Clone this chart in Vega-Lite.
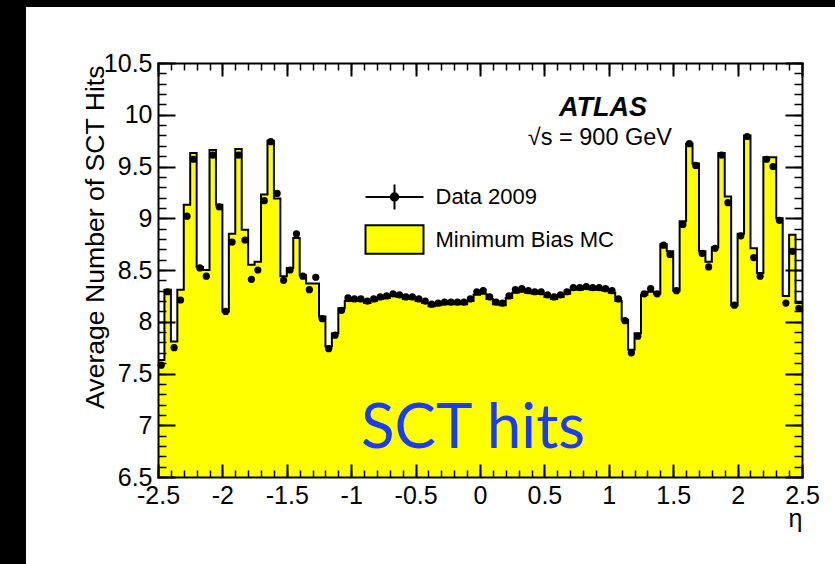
{
 "$schema": "https://vega.github.io/schema/vega-lite/v6.json",
 "width": 644, "height": 414,
 "autosize": {"type": "none"},
 "padding": {"left": 158, "top": 63, "right": 33, "bottom": 87},
 "background": "#000000",
 "config": {
  "view": {"stroke": null},
  "axis": {"labelFont": "Liberation Sans", "labelFontSize": 25, "labelColor": "black", "tickColor": "black", "domain": false, "grid": false, "labelFlush": false, "labelOverlap": false, "titleFont": "Liberation Sans", "titleColor": "black", "titleFontWeight": "normal", "domainColor": "black", "domainWidth": 2, "domainCap": "square"}
 },
 "data": {"values": [
  {"eta": -2.475, "lo": -2.5, "hi": -2.45, "data": 7.58, "mc": 7.63},
  {"eta": -2.425, "lo": -2.45, "hi": -2.4, "data": 8.29, "mc": 8.31},
  {"eta": -2.375, "lo": -2.4, "hi": -2.35, "data": 7.75, "mc": 7.81},
  {"eta": -2.325, "lo": -2.35, "hi": -2.3, "data": 8.21, "mc": 8.31},
  {"eta": -2.275, "lo": -2.3, "hi": -2.25, "data": 9.02, "mc": 9.13},
  {"eta": -2.225, "lo": -2.25, "hi": -2.2, "data": 9.57, "mc": 9.63},
  {"eta": -2.175, "lo": -2.2, "hi": -2.15, "data": 8.52, "mc": 8.53},
  {"eta": -2.125, "lo": -2.15, "hi": -2.1, "data": 8.44, "mc": 8.5},
  {"eta": -2.075, "lo": -2.1, "hi": -2.05, "data": 9.61, "mc": 9.66},
  {"eta": -2.025, "lo": -2.05, "hi": -2.0, "data": 9.11, "mc": 9.13},
  {"eta": -1.975, "lo": -2.0, "hi": -1.95, "data": 8.1, "mc": 8.1},
  {"eta": -1.925, "lo": -1.95, "hi": -1.9, "data": 8.77, "mc": 8.85},
  {"eta": -1.875, "lo": -1.9, "hi": -1.85, "data": 9.61, "mc": 9.67},
  {"eta": -1.825, "lo": -1.85, "hi": -1.8, "data": 8.79, "mc": 8.89},
  {"eta": -1.775, "lo": -1.8, "hi": -1.75, "data": 8.41, "mc": 8.55},
  {"eta": -1.725, "lo": -1.75, "hi": -1.7, "data": 8.5, "mc": 8.58},
  {"eta": -1.675, "lo": -1.7, "hi": -1.65, "data": 9.17, "mc": 9.23},
  {"eta": -1.625, "lo": -1.65, "hi": -1.6, "data": 9.74, "mc": 9.75},
  {"eta": -1.575, "lo": -1.6, "hi": -1.55, "data": 9.24, "mc": 9.19},
  {"eta": -1.525, "lo": -1.55, "hi": -1.5, "data": 8.4, "mc": 8.44},
  {"eta": -1.475, "lo": -1.5, "hi": -1.45, "data": 8.5, "mc": 8.52},
  {"eta": -1.425, "lo": -1.45, "hi": -1.4, "data": 8.85, "mc": 8.81},
  {"eta": -1.375, "lo": -1.4, "hi": -1.35, "data": 8.44, "mc": 8.45},
  {"eta": -1.325, "lo": -1.35, "hi": -1.3, "data": 8.31, "mc": 8.37},
  {"eta": -1.275, "lo": -1.3, "hi": -1.25, "data": 8.43, "mc": 8.37},
  {"eta": -1.225, "lo": -1.25, "hi": -1.2, "data": 8.03, "mc": 8.05},
  {"eta": -1.175, "lo": -1.2, "hi": -1.15, "data": 7.74, "mc": 7.76},
  {"eta": -1.125, "lo": -1.15, "hi": -1.1, "data": 7.87, "mc": 7.89},
  {"eta": -1.075, "lo": -1.1, "hi": -1.05, "data": 8.11, "mc": 8.13},
  {"eta": -1.025, "lo": -1.05, "hi": -1.0, "data": 8.23, "mc": 8.2},
  {"eta": -0.975, "lo": -1.0, "hi": -0.95, "data": 8.22, "mc": 8.2},
  {"eta": -0.925, "lo": -0.95, "hi": -0.9, "data": 8.22, "mc": 8.2},
  {"eta": -0.875, "lo": -0.9, "hi": -0.85, "data": 8.2, "mc": 8.18},
  {"eta": -0.825, "lo": -0.85, "hi": -0.8, "data": 8.22, "mc": 8.2},
  {"eta": -0.775, "lo": -0.8, "hi": -0.75, "data": 8.24, "mc": 8.22},
  {"eta": -0.725, "lo": -0.75, "hi": -0.7, "data": 8.25, "mc": 8.23},
  {"eta": -0.675, "lo": -0.7, "hi": -0.65, "data": 8.27, "mc": 8.25},
  {"eta": -0.625, "lo": -0.65, "hi": -0.6, "data": 8.26, "mc": 8.24},
  {"eta": -0.575, "lo": -0.6, "hi": -0.55, "data": 8.24, "mc": 8.22},
  {"eta": -0.525, "lo": -0.55, "hi": -0.5, "data": 8.24, "mc": 8.22},
  {"eta": -0.475, "lo": -0.5, "hi": -0.45, "data": 8.22, "mc": 8.2},
  {"eta": -0.425, "lo": -0.45, "hi": -0.4, "data": 8.2, "mc": 8.18},
  {"eta": -0.375, "lo": -0.4, "hi": -0.35, "data": 8.17, "mc": 8.15},
  {"eta": -0.325, "lo": -0.35, "hi": -0.3, "data": 8.18, "mc": 8.16},
  {"eta": -0.275, "lo": -0.3, "hi": -0.25, "data": 8.19, "mc": 8.17},
  {"eta": -0.225, "lo": -0.25, "hi": -0.2, "data": 8.19, "mc": 8.17},
  {"eta": -0.175, "lo": -0.2, "hi": -0.15, "data": 8.19, "mc": 8.17},
  {"eta": -0.125, "lo": -0.15, "hi": -0.1, "data": 8.19, "mc": 8.17},
  {"eta": -0.075, "lo": -0.1, "hi": -0.05, "data": 8.22, "mc": 8.2},
  {"eta": -0.025, "lo": -0.05, "hi": 0.0, "data": 8.29, "mc": 8.26},
  {"eta": 0.025, "lo": 0.0, "hi": 0.05, "data": 8.3, "mc": 8.27},
  {"eta": 0.075, "lo": 0.05, "hi": 0.1, "data": 8.24, "mc": 8.22},
  {"eta": 0.125, "lo": 0.1, "hi": 0.15, "data": 8.19, "mc": 8.17},
  {"eta": 0.175, "lo": 0.15, "hi": 0.2, "data": 8.18, "mc": 8.16},
  {"eta": 0.225, "lo": 0.2, "hi": 0.25, "data": 8.25, "mc": 8.23},
  {"eta": 0.275, "lo": 0.25, "hi": 0.3, "data": 8.31, "mc": 8.28},
  {"eta": 0.325, "lo": 0.3, "hi": 0.35, "data": 8.32, "mc": 8.29},
  {"eta": 0.375, "lo": 0.35, "hi": 0.4, "data": 8.3, "mc": 8.28},
  {"eta": 0.425, "lo": 0.4, "hi": 0.45, "data": 8.29, "mc": 8.27},
  {"eta": 0.475, "lo": 0.45, "hi": 0.5, "data": 8.29, "mc": 8.27},
  {"eta": 0.525, "lo": 0.5, "hi": 0.55, "data": 8.26, "mc": 8.24},
  {"eta": 0.575, "lo": 0.55, "hi": 0.6, "data": 8.24, "mc": 8.22},
  {"eta": 0.625, "lo": 0.6, "hi": 0.65, "data": 8.26, "mc": 8.24},
  {"eta": 0.675, "lo": 0.65, "hi": 0.7, "data": 8.29, "mc": 8.27},
  {"eta": 0.725, "lo": 0.7, "hi": 0.75, "data": 8.33, "mc": 8.31},
  {"eta": 0.775, "lo": 0.75, "hi": 0.8, "data": 8.33, "mc": 8.31},
  {"eta": 0.825, "lo": 0.8, "hi": 0.85, "data": 8.34, "mc": 8.32},
  {"eta": 0.875, "lo": 0.85, "hi": 0.9, "data": 8.33, "mc": 8.31},
  {"eta": 0.925, "lo": 0.9, "hi": 0.95, "data": 8.33, "mc": 8.31},
  {"eta": 0.975, "lo": 0.95, "hi": 1.0, "data": 8.32, "mc": 8.3},
  {"eta": 1.025, "lo": 1.0, "hi": 1.05, "data": 8.3, "mc": 8.28},
  {"eta": 1.075, "lo": 1.05, "hi": 1.1, "data": 8.22, "mc": 8.2},
  {"eta": 1.125, "lo": 1.1, "hi": 1.15, "data": 8.01, "mc": 8.02},
  {"eta": 1.175, "lo": 1.15, "hi": 1.2, "data": 7.7, "mc": 7.73},
  {"eta": 1.225, "lo": 1.2, "hi": 1.25, "data": 7.86, "mc": 7.89},
  {"eta": 1.275, "lo": 1.25, "hi": 1.3, "data": 8.27, "mc": 8.26},
  {"eta": 1.325, "lo": 1.3, "hi": 1.35, "data": 8.32, "mc": 8.29},
  {"eta": 1.375, "lo": 1.35, "hi": 1.4, "data": 8.27, "mc": 8.27},
  {"eta": 1.425, "lo": 1.4, "hi": 1.45, "data": 8.74, "mc": 8.75},
  {"eta": 1.475, "lo": 1.45, "hi": 1.5, "data": 8.65, "mc": 8.68},
  {"eta": 1.525, "lo": 1.5, "hi": 1.55, "data": 8.3, "mc": 8.3},
  {"eta": 1.575, "lo": 1.55, "hi": 1.6, "data": 8.94, "mc": 8.97},
  {"eta": 1.625, "lo": 1.6, "hi": 1.65, "data": 9.72, "mc": 9.72},
  {"eta": 1.675, "lo": 1.65, "hi": 1.7, "data": 9.51, "mc": 9.53},
  {"eta": 1.725, "lo": 1.7, "hi": 1.75, "data": 8.66, "mc": 8.68},
  {"eta": 1.775, "lo": 1.75, "hi": 1.8, "data": 8.53, "mc": 8.58},
  {"eta": 1.825, "lo": 1.8, "hi": 1.85, "data": 8.71, "mc": 8.72},
  {"eta": 1.875, "lo": 1.85, "hi": 1.9, "data": 9.61, "mc": 9.63},
  {"eta": 1.925, "lo": 1.9, "hi": 1.95, "data": 9.15, "mc": 9.21},
  {"eta": 1.975, "lo": 1.95, "hi": 2.0, "data": 8.16, "mc": 8.16},
  {"eta": 2.025, "lo": 2.0, "hi": 2.05, "data": 8.83, "mc": 8.85},
  {"eta": 2.075, "lo": 2.05, "hi": 2.1, "data": 9.79, "mc": 9.8},
  {"eta": 2.125, "lo": 2.1, "hi": 2.15, "data": 8.62, "mc": 8.71},
  {"eta": 2.175, "lo": 2.15, "hi": 2.2, "data": 8.44, "mc": 8.47},
  {"eta": 2.225, "lo": 2.2, "hi": 2.25, "data": 9.57, "mc": 9.59},
  {"eta": 2.275, "lo": 2.25, "hi": 2.3, "data": 9.5, "mc": 9.59},
  {"eta": 2.325, "lo": 2.3, "hi": 2.35, "data": 8.98, "mc": 9.0},
  {"eta": 2.375, "lo": 2.35, "hi": 2.4, "data": 8.18, "mc": 8.25},
  {"eta": 2.425, "lo": 2.4, "hi": 2.45, "data": 8.68, "mc": 8.84},
  {"eta": 2.475, "lo": 2.45, "hi": 2.5, "data": 8.13, "mc": 8.18}
 ]},
 "resolve": {"axis": {"x": "independent", "y": "independent"}, "scale": {"color": "independent", "shape": "independent"}},
 "layer": [
  {
   "data": {"values": [{}]},
   "mark": {"type": "rect", "color": "white", "clip": false},
   "encoding": {
    "x": {"datum": -3.525, "type": "quantitative", "axis": null},
    "x2": {"datum": 2.8},
    "y": {"datum": 11.04, "type": "quantitative", "axis": null},
    "y2": {"datum": 5.5}
   }
  },
  {
   "transform": [{"fold": ["lo", "hi"], "as": ["edge", "x"]}],
   "mark": {"type": "area", "color": "#ffff00", "opacity": 1, "clip": true},
   "encoding": {
    "x": {"field": "x", "type": "quantitative", "scale": {"domain": [-2.5, 2.5], "nice": false, "zero": false},
     "axis": {"orient": "bottom", "zindex": 1, "values": [-2.5, -2, -1.5, -1, -0.5, 0, 0.5, 1, 1.5, 2, 2.5], "tickSize": -13, "tickWidth": 2, "labelPadding": 19, "labelExpr": "toString(datum.value)", "domain": true,
      "title": "η", "titleFontSize": 25, "titleX": 644, "titleY": 49, "titleAlign": "right", "titleAnchor": "end", "titleBaseline": "alphabetic"}},
    "y": {"field": "mc", "type": "quantitative", "scale": {"domain": [6.5, 10.5], "nice": false, "zero": false},
     "axis": {"orient": "left", "zindex": 1, "values": [6.5, 7, 7.5, 8, 8.5, 9, 9.5, 10, 10.5], "tickSize": -17, "tickWidth": 2, "labelPadding": 23, "labelExpr": "toString(datum.value)", "domain": true,
      "title": "Average Number of SCT Hits", "titleFontSize": 26.6, "titleAngle": -90, "titleX": -63, "titleY": 2, "titleAlign": "right", "titleAnchor": "end", "titleBaseline": "middle"}},
    "y2": {"datum": 6.5}
   }
  },
  {
   "transform": [{"fold": ["lo", "hi"], "as": ["edge", "x"]}],
   "mark": {"type": "line", "color": "black", "strokeWidth": 2, "clip": true},
   "encoding": {
    "x": {"field": "x", "type": "quantitative", "scale": {"domain": [-2.5, 2.5], "nice": false, "zero": false},
     "axis": {"orient": "bottom", "zindex": 1, "values": [-2.5,-2.4,-2.3,-2.2,-2.1,-2,-1.9,-1.8,-1.7,-1.6,-1.5,-1.4,-1.3,-1.2,-1.1,-1,-0.9,-0.8,-0.7,-0.6,-0.5,-0.4,-0.3,-0.2,-0.1,0,0.1,0.2,0.3,0.4,0.5,0.6,0.7,0.8,0.9,1,1.1,1.2,1.3,1.4,1.5,1.6,1.7,1.8,1.9,2,2.1,2.2,2.3,2.4,2.5], "tickSize": -7, "tickWidth": 1.5, "labels": false, "title": null}},
    "y": {"field": "mc", "type": "quantitative", "scale": {"domain": [6.5, 10.5], "nice": false, "zero": false},
     "axis": {"orient": "left", "zindex": 1, "values": [6.5,6.6,6.7,6.8,6.9,7,7.1,7.2,7.3,7.4,7.5,7.6,7.7,7.8,7.9,8,8.1,8.2,8.3,8.4,8.5,8.6,8.7,8.8,8.9,9,9.1,9.2,9.3,9.4,9.5,9.6,9.7,9.8,9.9,10,10.1,10.2,10.3,10.4,10.5], "tickSize": -8, "tickWidth": 1.5, "labels": false, "title": null}},
    "order": [{"field": "x", "type": "quantitative"}, {"field": "edge", "type": "nominal"}]
   }
  },
  {
   "mark": {"type": "point", "filled": true, "color": "black", "size": 52, "opacity": 1},
   "encoding": {
    "x": {"field": "eta", "type": "quantitative", "scale": {"domain": [-2.5, 2.5], "nice": false, "zero": false},
     "axis": {"orient": "top", "zindex": 1, "values": [-2.5, -2, -1.5, -1, -0.5, 0, 0.5, 1, 1.5, 2, 2.5], "tickSize": -13, "tickWidth": 2, "labels": false, "domain": true, "title": null}},
    "y": {"field": "data", "type": "quantitative", "scale": {"domain": [6.5, 10.5], "nice": false, "zero": false},
     "axis": {"orient": "right", "zindex": 1, "values": [6.5, 7, 7.5, 8, 8.5, 9, 9.5, 10, 10.5], "tickSize": -17, "tickWidth": 2, "labels": false, "domain": true, "title": null}}
   }
  },
  {
   "mark": {"type": "point", "filled": true, "opacity": 0},
   "encoding": {
    "x": {"field": "eta", "type": "quantitative", "scale": {"domain": [-2.5, 2.5], "nice": false, "zero": false},
     "axis": {"orient": "top", "zindex": 1, "values": [-2.5,-2.4,-2.3,-2.2,-2.1,-2,-1.9,-1.8,-1.7,-1.6,-1.5,-1.4,-1.3,-1.2,-1.1,-1,-0.9,-0.8,-0.7,-0.6,-0.5,-0.4,-0.3,-0.2,-0.1,0,0.1,0.2,0.3,0.4,0.5,0.6,0.7,0.8,0.9,1,1.1,1.2,1.3,1.4,1.5,1.6,1.7,1.8,1.9,2,2.1,2.2,2.3,2.4,2.5], "tickSize": -7, "tickWidth": 1.5, "labels": false, "title": null}},
    "y": {"field": "data", "type": "quantitative", "scale": {"domain": [6.5, 10.5], "nice": false, "zero": false},
     "axis": {"orient": "right", "zindex": 1, "values": [6.5,6.6,6.7,6.8,6.9,7,7.1,7.2,7.3,7.4,7.5,7.6,7.7,7.8,7.9,8,8.1,8.2,8.3,8.4,8.5,8.6,8.7,8.8,8.9,9,9.1,9.2,9.3,9.4,9.5,9.6,9.7,9.8,9.9,10,10.1,10.2,10.3,10.4,10.5], "tickSize": -8, "tickWidth": 1.5, "labels": false, "title": null}},
    "color": {"datum": "Data 2009", "type": "nominal", "scale": {"range": ["black"]},
     "legend": {"title": null, "orient": "none", "legendX": 206.5, "legendY": 104, "padding": 0, "symbolSize": 3364, "symbolStrokeColor": "black", "symbolStrokeWidth": 2, "symbolOpacity": 1, "labelFont": "Liberation Sans", "labelFontSize": 22, "labelLimit": 400, "labelColor": "black", "labelOffset": 11,
      "encode": {"symbols": {"update": {"stroke": {"value": "black"}, "strokeWidth": {"value": 2}, "opacity": {"value": 1}, "strokeOpacity": {"value": 1}}}}}},
    "shape": {"datum": "Data 2009", "type": "nominal", "scale": {"range": ["M-1,0H1M0,-0.43V0.43M0.13,0A0.13,0.13,0,1,1,-0.13,0A0.13,0.13,0,1,1,0.13,0Z"]},
     "legend": {"title": null, "orient": "none", "legendX": 206.5, "legendY": 104, "padding": 0, "symbolSize": 3364, "symbolStrokeColor": "black", "symbolStrokeWidth": 2, "symbolOpacity": 1, "labelFont": "Liberation Sans", "labelFontSize": 22, "labelLimit": 400, "labelColor": "black", "labelOffset": 11,
      "encode": {"symbols": {"update": {"stroke": {"value": "black"}, "strokeWidth": {"value": 2}, "opacity": {"value": 1}, "strokeOpacity": {"value": 1}}}}}}
   }
  },
  {
   "mark": {"type": "point", "filled": true, "opacity": 0},
   "encoding": {
    "x": {"field": "eta", "type": "quantitative", "scale": {"domain": [-2.5, 2.5], "nice": false, "zero": false}, "axis": null},
    "y": {"field": "mc", "type": "quantitative", "scale": {"domain": [6.5, 10.5], "nice": false, "zero": false}, "axis": null},
    "color": {"datum": "Minimum Bias MC", "type": "nominal", "scale": {"range": ["#ffff00"]},
     "legend": {"title": null, "orient": "none", "legendX": 206.5, "legendY": 146.5, "padding": 0, "symbolSize": 3364, "symbolStrokeColor": "black", "symbolStrokeWidth": 2, "symbolOpacity": 1, "labelFont": "Liberation Sans", "labelFontSize": 22, "labelLimit": 400, "labelColor": "black", "labelOffset": 11,
      "encode": {"symbols": {"update": {"stroke": {"value": "black"}, "strokeWidth": {"value": 2}, "opacity": {"value": 1}, "strokeOpacity": {"value": 1}}}}}},
    "shape": {"datum": "Minimum Bias MC", "type": "nominal", "scale": {"range": ["M-1,-0.49H1V0.49H-1Z"]},
     "legend": {"title": null, "orient": "none", "legendX": 206.5, "legendY": 146.5, "padding": 0, "symbolSize": 3364, "symbolStrokeColor": "black", "symbolStrokeWidth": 2, "symbolOpacity": 1, "labelFont": "Liberation Sans", "labelFontSize": 22, "labelLimit": 400, "labelColor": "black", "labelOffset": 11,
      "encode": {"symbols": {"update": {"stroke": {"value": "black"}, "strokeWidth": {"value": 2}, "opacity": {"value": 1}, "strokeOpacity": {"value": 1}}}}}}
   }
  },
  {
   "data": {"values": [{}]},
   "mark": {"type": "text", "text": "ATLAS", "font": "Liberation Sans", "fontSize": 27, "fontWeight": "bold", "fontStyle": "italic", "align": "right", "baseline": "middle", "color": "black"},
   "encoding": {
    "x": {"datum": 1.297, "type": "quantitative", "axis": null},
    "y": {"datum": 10.065, "type": "quantitative", "axis": null}
   }
  },
  {
   "data": {"values": [{}]},
   "mark": {"type": "text", "text": "√s = 900 GeV", "font": "Liberation Sans", "fontSize": 23.5, "align": "right", "baseline": "middle", "color": "black"},
   "encoding": {
    "x": {"datum": 1.491, "type": "quantitative", "axis": null},
    "y": {"datum": 9.775, "type": "quantitative", "axis": null}
   }
  },
  {
   "data": {"values": [{}]},
   "mark": {"type": "text", "text": "SCT hits", "font": "Lato", "fontSize": 62, "align": "left", "baseline": "alphabetic", "color": "#1a3cf5"},
   "encoding": {
    "x": {"datum": -0.924, "type": "quantitative", "axis": null},
    "y": {"datum": 6.78, "type": "quantitative", "axis": null}
   }
  }
 ]
}
